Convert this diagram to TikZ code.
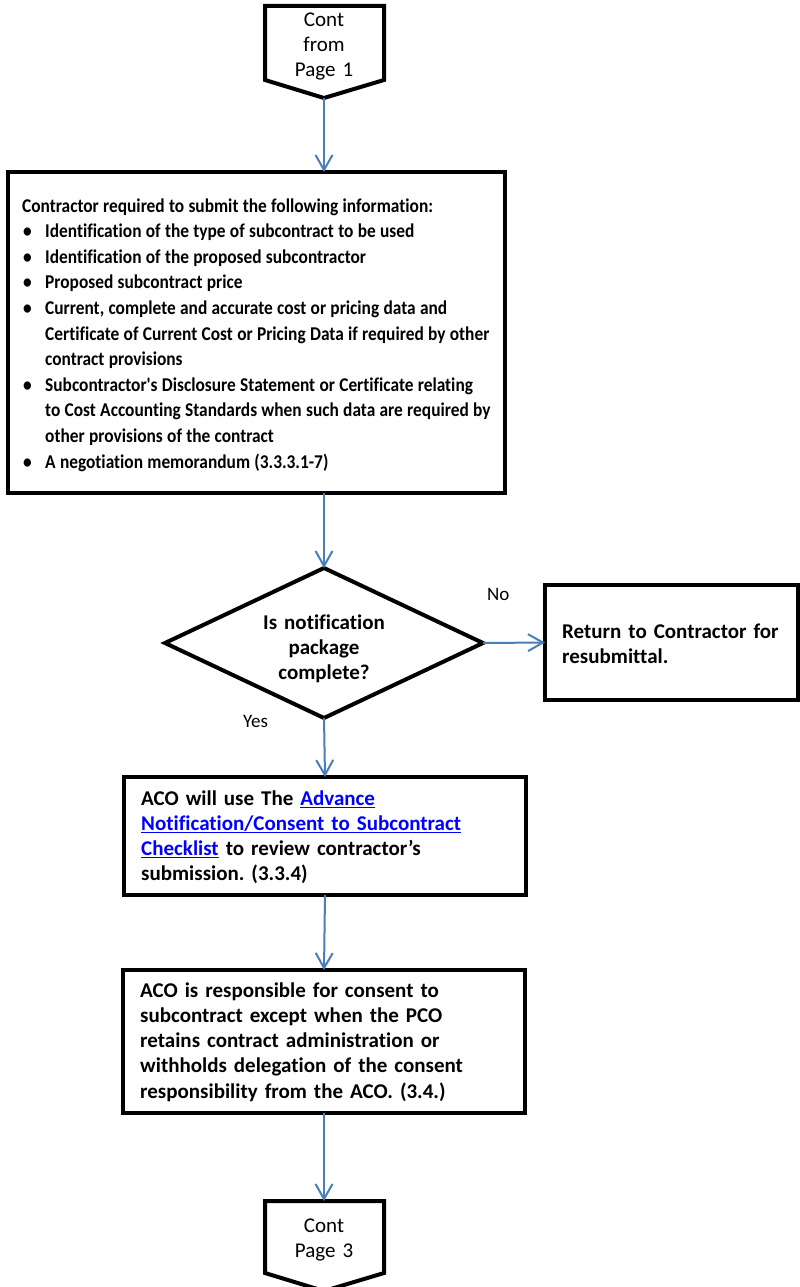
\documentclass[tikz,border=0pt]{standalone}
\usepackage{fontspec}
\setmainfont{Carlito}[Ligatures={TeXOff,NoCommon}]
\newfontfamily\condfont{Carlito}[Ligatures={TeXOff,NoCommon}, FakeStretch=0.89]
\usetikzlibrary{arrows.meta,shapes.geometric}
\definecolor{arrowblue}{RGB}{74,126,187}
\definecolor{linkblue}{RGB}{0,0,255}
\newcommand\bulitem{\makebox[23pt][l]{\hspace{1pt}•}}
\newcommand\contind{\hspace*{23pt}}
\newcommand\lnkul[1]{\textcolor{linkblue}{\setbox0\hbox{#1}\rlap{\rule[-3pt]{\wd0}{1.4pt}}\box0}}
\newcommand\condsetup{\frenchspacing\condfont\bfseries\fontsize{19.5}{25.6}\selectfont}
\newcommand\condspacing{\spaceskip 4.3pt plus 1pt minus 0.5pt\xspaceskip 4.3pt\relax}
\newcommand\boldsetup{\frenchspacing\bfseries\fontsize{21}{25}\selectfont}
\newcommand\boldsetupb{\frenchspacing\bfseries\fontsize{21}{25.25}\selectfont}
\tikzset{
  box/.style={draw=black, line width=4pt, rectangle, inner sep=0pt, outer sep=0pt, anchor=north west},
  flow/.style={draw=arrowblue, line width=2pt, -{Straight Barb[length=15pt,width=17pt]}},
  btext/.style={font=\boldsetup, inner sep=0pt, anchor=base west, align=left, text width=600pt},
  condtext/.style={font=\condsetup, inner sep=0pt, anchor=base west, align=left, text width=600pt},
  rtext/.style={font=\fontsize{21}{25}\selectfont, inner sep=0pt, anchor=base, align=center, text width=150pt},
  lbl/.style={font=\fontsize{19}{22}\selectfont, inner sep=0pt, anchor=base west}
}
\begin{document}
\begin{tikzpicture}[x=1pt,y=-1pt]
\useasboundingbox (0,0) rectangle (800,1287);
\fill[white] (0,0) rectangle (800,1287);

% top off-page connector
\draw[line width=4pt] (265,6) -- (384,6) -- (384,80) -- (324,98) -- (265,80) -- cycle;
\coordinate (topTip) at (324,98);
\node (topText) [rtext] at (324,27) {Cont\\from\\Page 1};

% main info box
\node (infoBox) [box, minimum width=497pt, minimum height=321pt] at (8,172) {};
\node (infoText) [condtext] at (22,212) {\condspacing Contractor required to submit the following information:\\
\bulitem Identification of the type of subcontract to be used\\
\bulitem Identification of the proposed subcontractor\\
\bulitem Proposed subcontract price\\
\bulitem Current, complete and accurate cost or pricing data and\\
\contind Certificate of Current Cost or Pricing Data if required by other\\
\contind contract provisions\\
\bulitem Subcontractor's Disclosure Statement or Certificate relating\\
\contind to Cost Accounting Standards when such data are required by\\
\contind other provisions of the contract\\
\bulitem A negotiation memorandum (3.3.3.1-7)};
\coordinate (infoIn) at (324,172);
\coordinate (infoOut) at (324,493);

% decision
\node (decision) [diamond, draw=black, line width=4pt, minimum width=318pt, minimum height=150pt, inner sep=0pt, outer sep=0pt, aspect=2.12] at (324,643) {};
\node (decText) [btext, anchor=base, align=center, text width=180pt] at (324,629) {Is notification\\package\\complete?};

% return box
\node (retBox) [box, minimum width=253pt, minimum height=115pt] at (545,585) {};
\node (retText) [btext] at (562,638) {Return to Contractor for\\resubmittal.};

% ACO box 1
\node (acoBox1) [box, minimum width=402pt, minimum height=118pt] at (124,777) {};
\node (acoText1) [btext] at (141,805) {ACO will use The \lnkul{Advance}\\
\lnkul{Notification/Consent to Subcontract}\\
\lnkul{Checklist} to review contractor’s\\
submission. (3.3.4)};

% ACO box 2
\node (acoBox2) [box, minimum width=402pt, minimum height=143pt] at (123,970) {};
\node (acoText2) [btext, font=\boldsetupb] at (140,997) {ACO is responsible for consent to\\
subcontract except when the PCO\\
retains contract administration or\\
withholds delegation of the consent\\
responsibility from the ACO. (3.4.)};

% bottom off-page connector
\draw[line width=4pt] (265,1201) -- (384,1201) -- (384,1273) -- (324,1291) -- (265,1273) -- cycle;
\coordinate (botTop) at (324,1201);
\node (botText) [rtext] at (324,1232) {Cont\\Page 3};

% labels
\node (noLbl) [lbl] at (487,600) {No};
\node (yesLbl) [lbl] at (243,727) {Yes};

% connectors
\draw[flow] (topTip) -- (infoIn);
\draw[flow] (infoOut) -- (decision.north);
\draw[flow] (decision.east) -- (retBox.west);
\draw[flow] (decision.south) -- (acoBox1.north);
\draw[flow] (acoBox1.south) -- (acoBox2.north);
\draw[flow] (acoBox2.south) -- (botTop);
\end{tikzpicture}
\end{document}
